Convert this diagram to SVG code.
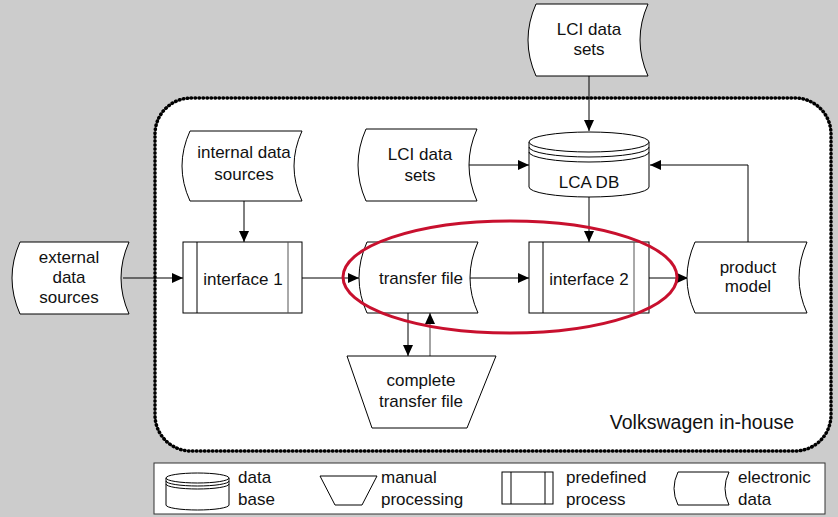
<svg xmlns="http://www.w3.org/2000/svg" width="838" height="517" viewBox="0 0 838 517">
<defs>
<style>
text{font-family:"Liberation Sans",Arial,sans-serif;font-size:17px;fill:#111;text-anchor:middle}
.s{fill:#fff;stroke:#000;stroke-width:1}
.l{fill:none;stroke:#000;stroke-width:1}
.g{fill:none;stroke:#555;stroke-width:1}
.c{fill:none;stroke:#000;stroke-width:1}
.lt{text-anchor:start}
</style>
<marker id="ah" markerUnits="userSpaceOnUse" markerWidth="12" markerHeight="10" refX="11" refY="5" orient="auto">
<path d="M0,0 L11,5 L0,10 Z" fill="#000"/>
</marker>
</defs>
<rect x="0" y="0" width="838" height="517" fill="#cccccc"/>
<g id="inhouse">
<rect x="155" y="98" width="676" height="353" rx="36" ry="36" fill="#fff" stroke="#000" stroke-width="3.5" stroke-dasharray="0.5 3.5" stroke-linecap="round"/>
<text x="702" y="429" style="font-size:19.5px">Volkswagen in-house</text>
</g>
<g id="connectors">
<line class="c" x1="589" y1="75" x2="589" y2="131" marker-end="url(#ah)"/>
<line class="c" x1="469" y1="165" x2="529" y2="165" marker-end="url(#ah)"/>
<polyline class="c" points="748,242 748,165 650,165" marker-end="url(#ah)"/>
<line class="c" x1="589" y1="197" x2="589" y2="242" marker-end="url(#ah)"/>
<line class="c" x1="244" y1="201" x2="244" y2="242" marker-end="url(#ah)"/>
<line class="c" x1="123" y1="278" x2="183" y2="278" marker-end="url(#ah)"/>
<line class="c" x1="302" y1="278" x2="359" y2="278" marker-end="url(#ah)"/>
<line class="c" x1="470" y1="278" x2="529" y2="278" marker-end="url(#ah)"/>
<line class="c" x1="649" y1="278" x2="688" y2="278" marker-end="url(#ah)"/>
<line class="c" x1="408" y1="313" x2="408" y2="356" marker-end="url(#ah)"/>
<line x1="430" y1="356" x2="430" y2="313" stroke="#666" stroke-width="1.2" marker-end="url(#ah)"/>
</g>
<g id="lci-top">
<path class="s" d="M536,4 L648,4 Q632,40 648,76 L536,76 Q520,40 536,4 Z"/>
<text x="589" y="35">LCI data</text>
<text x="589" y="55">sets</text>
</g>
<g id="lca-db">
<path class="s" d="M529,142 L529,187 A60,10 0 0 0 649,187 L649,142 Z"/>
<ellipse class="s" cx="589" cy="142" rx="60" ry="10"/>
<path class="l" d="M529,147 A60,10 0 0 0 649,147 M529,152 A60,10 0 0 0 649,152"/>
<text x="589" y="188">LCA DB</text>
</g>
<g id="lci-mid">
<path class="s" d="M366,129 L477,129 Q461,165 477,201 L366,201 Q350,165 366,129 Z"/>
<text x="420" y="160">LCI data</text>
<text x="420" y="181">sets</text>
</g>
<g id="internal">
<path class="s" d="M190,131 L302,131 Q286,166 302,201 L190,201 Q174,166 190,131 Z"/>
<text x="244" y="158">internal data</text>
<text x="244" y="180">sources</text>
</g>
<g id="external">
<path class="s" d="M20,242 L129,242 Q113,278 129,314 L20,314 Q4,278 20,242 Z"/>
<text x="69" y="263">external</text>
<text x="69" y="283">data</text>
<text x="69" y="303">sources</text>
</g>
<g id="interface1">
<rect class="s" x="183" y="242" width="119" height="71"/>
<line class="l" x1="197" y1="242" x2="197" y2="313"/>
<line class="g" x1="288" y1="242" x2="288" y2="313"/>
<text x="243" y="285">interface 1</text>
</g>
<g id="transfer">
<path class="s" d="M367,242 L478,242 Q462,278 478,313 L367,313 Q351,278 367,242 Z"/>
<text x="421" y="284">transfer file</text>
</g>
<g id="interface2">
<rect class="s" x="529" y="242" width="120" height="71"/>
<line class="l" x1="543" y1="242" x2="543" y2="313"/>
<line class="g" x1="634" y1="242" x2="634" y2="313"/>
<text x="589" y="285">interface 2</text>
</g>
<g id="product">
<path class="s" d="M695,242 L807,242 Q791,278 807,313 L695,313 Q679,278 695,242 Z"/>
<text x="748" y="273">product</text>
<text x="748" y="292">model</text>
</g>
<g id="complete">
<path class="s" d="M347,356 L496,356 L467,428 L372,428 Z"/>
<text x="421" y="386">complete</text>
<text x="421" y="407">transfer file</text>
</g>
<g id="highlight">
<ellipse cx="510" cy="277" rx="167" ry="56" fill="none" stroke="#c8102e" stroke-width="3"/>
</g>
<g id="legend">
<rect x="154" y="463" width="671" height="51" fill="#fff" stroke="#333" stroke-width="1"/>
<path class="s" d="M166,478 L166,505 A31.5,5 0 0 0 229,505 L229,478 Z"/>
<ellipse class="s" cx="197.5" cy="478" rx="31.5" ry="5"/>
<path class="l" d="M166,481 A31.5,5 0 0 0 229,481 M166,484 A31.5,5 0 0 0 229,484"/>
<text class="lt" x="238" y="483">data</text>
<text class="lt" x="238" y="505">base</text>
<path class="s" d="M320,476 L377,476 L362,505 L335,505 Z"/>
<text class="lt" x="381" y="483">manual</text>
<text class="lt" x="381" y="505">processing</text>
<rect class="s" x="502" y="472" width="51" height="32"/>
<line class="l" x1="511" y1="472" x2="511" y2="504"/>
<line class="l" x1="545" y1="472" x2="545" y2="504"/>
<text class="lt" x="566" y="483">predefined</text>
<text class="lt" x="566" y="505">process</text>
<path class="s" d="M678,472 L729,472 Q721,488.5 729,505 L678,505 Q670,488.5 678,472 Z"/>
<text class="lt" x="738" y="483">electronic</text>
<text class="lt" x="738" y="505">data</text>
</g>
</svg>
